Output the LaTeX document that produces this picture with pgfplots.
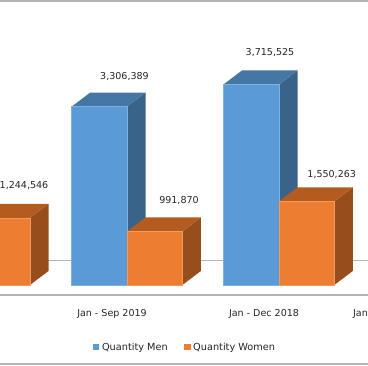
\documentclass[border=0pt]{standalone}
\usepackage{pgfplots}
\pgfplotsset{compat=1.18}
\usepackage{fontspec}
\setmainfont{DejaVu Sans}
\definecolor{bF}{HTML}{5B9BD5}
\definecolor{bT}{HTML}{4477A3}
\definecolor{bS}{HTML}{3A6389}
\definecolor{bE}{HTML}{7DB1E0}
\definecolor{oF}{HTML}{ED7D31}
\definecolor{oT}{HTML}{B45B20}
\definecolor{oS}{HTML}{964F1C}
\definecolor{oE}{HTML}{F39A5E}
\definecolor{gl}{HTML}{B4B4B4}
\definecolor{tx}{HTML}{262626}
% box: #1 left, #2 right, #3 value; #4 front, #5 top, #6 side, #7 edge
\newcommand{\boxbar}[7]{%
\pgfmathsetmacro{\xb}{#2+18.5}%
\pgfmathsetmacro{\xc}{#1+18.5}%
\edef\yt{\the\numexpr#3+259740\relax}%
\addplot[fill=#6,draw=none,forget plot] coordinates {(#2,0) (\xb,259740) (\xb,\yt) (#2,#3)} -- cycle;
\addplot[fill=#5,draw=none,forget plot] coordinates {(#1,#3) (\xc,\yt) (\xb,\yt) (#2,#3)} -- cycle;
\addplot[fill=#4,draw=#7,line width=0.4pt,forget plot] coordinates {(#1,0) (#1,#3) (#2,#3) (#2,0)} -- cycle;
}
\begin{document}
\begin{tikzpicture}[x=0.75pt,y=0.75pt]
\useasboundingbox (0,0) rectangle (368,366);
\fill[white] (0,0) rectangle (368,366);
\begin{axis}[
  at={(0pt,53.25pt)},anchor=south west,
  scale only axis,width=276pt,height=221.25pt,
  xmin=0,xmax=368,
  ymin=-185500,ymax=5282000,
  clip=false,
  axis x line=bottom,axis y line=none,
  axis line style={gl,line width=0.9pt,-},
  xtick={112,264,360.5},
  xticklabels={Jan - Sep 2019,Jan - Dec 2018,Jan},
  major tick length=0pt,
  xticklabel style={font=\fontsize{7.15pt}{9pt}\selectfont,text=tx,anchor=center,yshift=-14.5pt},
  legend style={at={(0.504,-0.1775)},anchor=center,draw=none,fill=none,
    legend columns=2,font=\fontsize{7.3pt}{9pt}\selectfont,text=tx,
    /tikz/every even column/.style={column sep=10.5pt}},
  legend image code/.code={\fill[#1] (0cm,-2.3pt) rectangle (4.6pt,2.3pt);},
]
% y grid line behind the bars
\addplot[gl,line width=1.1pt,forget plot] coordinates {(0,456000) (368,456000)};
% Jan - Sep 2019
\boxbar{71.7}{127}{3306389}{bF}{bT}{bS}{bE}
\boxbar{127}{182.4}{991870}{oF}{oT}{oS}{oE}
% Jan - Dec 2018
\boxbar{223.4}{279}{3715525}{bF}{bT}{bS}{bE}
\boxbar{279}{334.3}{1550263}{oF}{oT}{oS}{oE}
% clipped first category: only the women's bar shows
\boxbar{-25.4}{30}{1244546}{oF}{oT}{oS}{oE}
\addlegendimage{fill=bF,draw=none}\addlegendentry{Quantity Men}
\addlegendimage{fill=oF,draw=none}\addlegendentry{Quantity Women}
\addplot[only marks,mark=none,forget plot,
  nodes near coords={\pgfplotspointmeta},point meta=explicit symbolic,
  nodes near coords align=center,
  nodes near coords style={font=\fontsize{7.15pt}{9pt}\selectfont,text=tx,anchor=center}]
 table[meta=l,row sep=\\] {x y l\\
  124.5 3863000 {3,306,389}\\
  270 4300000 {3,715,525}\\
  179 1560000 {991,870}\\
  331.7 2053000 {1,550,263}\\
  24 1850000 {1,244,546}\\
 };
\end{axis}
\draw[gl,line width=0.9pt] (0,365) -- (368,365);
\draw[gl,line width=0.9pt] (0,2) -- (368,2);
\end{tikzpicture}
\end{document}
